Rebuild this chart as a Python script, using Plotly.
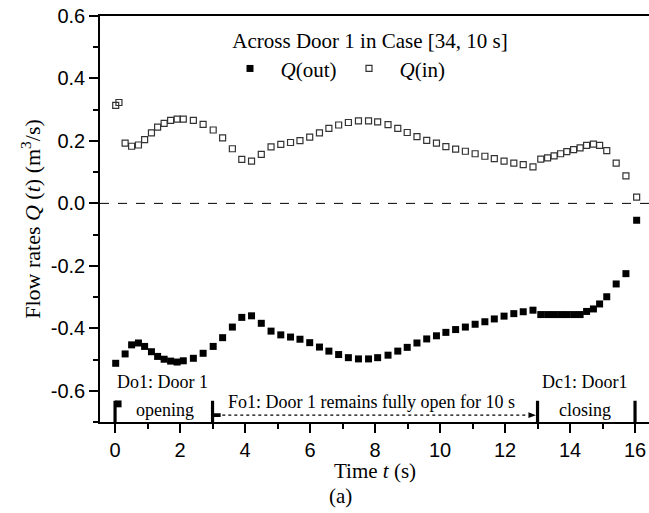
import plotly.graph_objects as go

# Sample times (s)
t_vals = [0.02, 0.12, 0.31, 0.51, 0.72, 0.91, 1.12, 1.31, 1.51, 1.71, 1.91, 2.10,
          2.41, 2.71, 3.02, 3.31, 3.61, 3.90, 4.20, 4.50, 4.80, 5.10, 5.40, 5.69,
          5.99, 6.29, 6.58, 6.88, 7.18, 7.49, 7.80, 8.08, 8.40, 8.70, 8.99, 9.29,
          9.59, 9.89, 10.18, 10.48, 10.78, 11.08, 11.38, 11.67, 11.97, 12.27, 12.56,
          12.86, 13.10, 13.31, 13.51, 13.71, 13.90, 14.11, 14.31, 14.51, 14.72,
          14.91, 15.13, 15.42, 15.72, 16.05]

# Inflow across Door 1 (m^3/s)
q_in = [0.314, 0.323, 0.193, 0.183, 0.187, 0.204, 0.226, 0.244, 0.256, 0.266, 0.270,
        0.270, 0.266, 0.253, 0.235, 0.210, 0.175, 0.141, 0.135, 0.157, 0.181, 0.189,
        0.195, 0.201, 0.212, 0.226, 0.240, 0.251, 0.259, 0.264, 0.264, 0.261, 0.252,
        0.240, 0.227, 0.214, 0.202, 0.193, 0.182, 0.174, 0.167, 0.159, 0.151, 0.143,
        0.135, 0.129, 0.124, 0.117, 0.142, 0.146, 0.152, 0.159, 0.166, 0.172, 0.178,
        0.186, 0.190, 0.186, 0.169, 0.129, 0.088, 0.020]

# Outflow across Door 1 (m^3/s); no outflow sample at t = 0.12 s
t_out = [t for i, t in enumerate(t_vals) if i != 1]
q_out = [-0.512, -0.482, -0.453, -0.447, -0.458, -0.475, -0.490, -0.499, -0.505,
         -0.508, -0.504, -0.496, -0.480, -0.458, -0.430, -0.396, -0.365, -0.360,
         -0.384, -0.409, -0.421, -0.428, -0.435, -0.446, -0.460, -0.473, -0.484,
         -0.494, -0.498, -0.498, -0.494, -0.486, -0.473, -0.461, -0.447, -0.434,
         -0.424, -0.413, -0.404, -0.396, -0.387, -0.379, -0.370, -0.361, -0.353,
         -0.347, -0.342, -0.356, -0.356, -0.356, -0.356, -0.356, -0.356, -0.356,
         -0.346, -0.338, -0.322, -0.299, -0.258, -0.225, -0.054]

# Door phase boundaries (s): opening, fully open, closing
phase_marks = [0, 3, 13, 16]

y_ticks = [0.6, 0.4, 0.2, 0.0, -0.2, -0.4, -0.6]
x_ticks = [0, 2, 4, 6, 8, 10, 12, 14, 16]

SERIF = "Liberation Serif, Times New Roman, serif"
SANS = "Liberation Sans, Arial, sans-serif"

# plot area in pixels (used for paper-referenced labels)
L, R, T, B = 100, 649, 16, 422
PW, PH = R - L, B - T


def px_x(px):
    return (px - L) / PW


def px_y(py):
    return (B - py) / PH


fig = go.Figure()
fig.add_trace(go.Scatter(
    x=t_out, y=q_out, mode="markers", name="&nbsp;&nbsp;<i>Q</i>(out)",
    marker=dict(symbol="square", size=7, color="black", line=dict(width=0)),
))
fig.add_trace(go.Scatter(
    x=t_vals, y=q_in, mode="markers", name="&nbsp;&nbsp;<i>Q</i>(in)",
    marker=dict(symbol="square-open", size=6, color="#333333", line=dict(width=1.2)),
))

# zero reference line
fig.add_shape(type="line", xref="paper", yref="y", x0=0, x1=1, y0=0, y1=0,
              line=dict(color="black", width=1, dash="dash"))

# phase boundary bars
bar_top, bar_bot = -0.632, -0.7
for tm in phase_marks:
    fig.add_shape(type="line", x0=tm, x1=tm, y0=bar_top, y1=bar_bot,
                  line=dict(color="black", width=3.2))

# flag at the start of opening
fig.add_shape(type="rect", x0=phase_marks[0], x1=phase_marks[0] + 0.2,
              y0=-0.631, y1=-0.653, fillcolor="black", line=dict(width=0))
# dotted span of the fully-open phase with end marks
fig.add_shape(type="rect", x0=phase_marks[1], x1=phase_marks[1] + 0.25,
              y0=-0.672, y1=-0.684, fillcolor="black", line=dict(width=0))
fig.add_shape(type="line", x0=phase_marks[1] + 0.3, x1=phase_marks[2] - 0.3,
              y0=-0.678, y1=-0.678, line=dict(color="black", width=1.2, dash="dot"))
fig.add_shape(type="path",
              path=f"M {phase_marks[2]-0.28},-0.669 L {phase_marks[2]-0.05},-0.678 "
                   f"L {phase_marks[2]-0.28},-0.687 Z",
              fillcolor="black", line=dict(width=0))

txt = dict(showarrow=False, font=dict(family=SERIF, size=18, color="black"))
fig.add_annotation(x=(phase_marks[0] + phase_marks[1]) / 2 - 0.05, y=-0.573,
                   text="Do1: Door 1", **txt)
fig.add_annotation(x=(phase_marks[0] + phase_marks[1]) / 2 + 0.05, y=-0.66,
                   text="opening", **txt)
fig.add_annotation(x=(phase_marks[1] + phase_marks[2]) / 2 - 0.1, y=-0.635,
                   text="Fo1: Door 1 remains fully open for 10 s", **txt)
fig.add_annotation(x=(phase_marks[2] + phase_marks[3]) / 2 - 0.05, y=-0.573,
                   text="Dc1: Door1", **txt)
fig.add_annotation(x=(phase_marks[2] + phase_marks[3]) / 2 - 0.05, y=-0.66,
                   text="closing", **txt)

# axis title and panel label below the plot
big = dict(xref="paper", yref="paper", showarrow=False, xanchor="center",
           yanchor="middle", font=dict(family=SERIF, size=21, color="black"))
fig.add_annotation(x=px_x(375), y=px_y(471), text="Time <i>t</i> (s)", **big)
fig.add_annotation(x=px_x(340), y=px_y(496), text="(a)", **big)

fig.update_layout(
    width=649, height=513,
    margin=dict(l=L, r=0, t=T, b=513 - B),
    paper_bgcolor="white", plot_bgcolor="white",
    showlegend=True,
    legend=dict(
        orientation="h", xanchor="center", x=px_x(370),
        yanchor="top", y=px_y(21),
        bgcolor="rgba(0,0,0,0)",
        font=dict(family=SERIF, size=21, color="black"),
        title=dict(text="Across Door 1 in Case [34, 10 s]", side="top center",
                   font=dict(family=SERIF, size=21, color="black")),
        entrywidth=74, entrywidthmode="pixels",
        tracegroupgap=0,
    ),
    xaxis=dict(
        range=[-0.463, 16.43], tickvals=x_ticks, ticktext=[str(v) for v in x_ticks],
        ticks="outside", ticklen=9, tickwidth=1.6, tickcolor="black",
        minor=dict(dtick=1, ticks="outside", ticklen=5, tickwidth=1.6, tickcolor="black"),
        showline=True, linewidth=1.6, linecolor="black", mirror=True,
        showgrid=False, zeroline=False,
        tickfont=dict(family=SANS, size=20, color="black"),
    ),
    yaxis=dict(
        range=[-0.7, 0.6], tickvals=y_ticks,
        ticktext=[f"{v:.1f}".replace("-0.0", "0.0") for v in y_ticks],
        ticks="outside", ticklen=9, tickwidth=1.6, tickcolor="black",
        minor=dict(dtick=0.1, ticks="outside", ticklen=5, tickwidth=1.6, tickcolor="black"),
        showline=True, linewidth=1.6, linecolor="black",
        showgrid=False, zeroline=False,
        tickfont=dict(family=SANS, size=20, color="black"),
        title=dict(text="Flow rates <i>Q</i> (<i>t</i>) (m<sup>3</sup>/s)", standoff=4,
                   font=dict(family=SERIF, size=22, color="black")),
    ),
)

fig.write_html("out.html")
